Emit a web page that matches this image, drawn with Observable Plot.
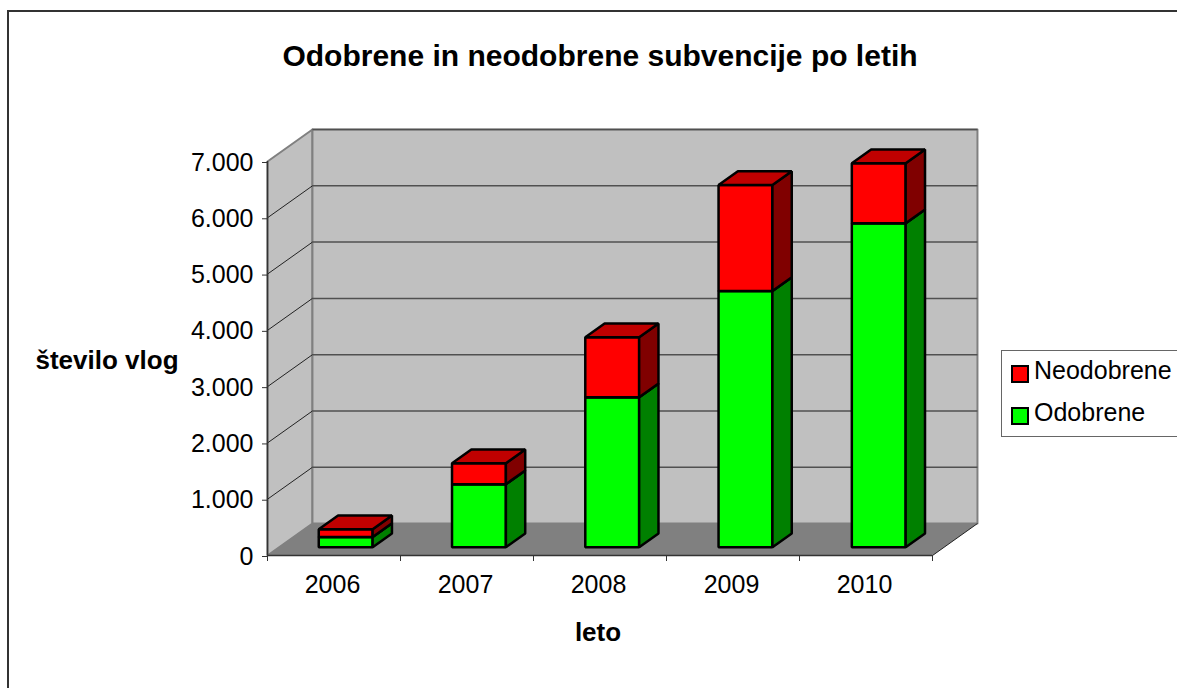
<!DOCTYPE html>
<html>
<head>
<meta charset="utf-8">
<script src="https://cdn.jsdelivr.net/npm/d3@7"></script>
<script src="https://cdn.jsdelivr.net/npm/@observablehq/plot@0.6"></script>
<style>
html,body{margin:0;padding:0;background:#fff;overflow:hidden}
#wrap{position:relative;width:1177px;height:688px;font-family:"Liberation Sans",Arial,sans-serif;color:#000}
#frame{position:absolute;left:7px;top:10px;width:1180px;height:690px;border:2px solid #333;box-sizing:border-box}
#legend{position:absolute;left:1001px;top:350px;width:190px;height:87px;border:1.5px solid #666;box-sizing:border-box;background:#fff}
#legend .sw{position:absolute;left:9px;width:18px;height:18px;border:2px solid #000;box-sizing:border-box}
#legend .lb{position:absolute;left:32px;font-size:25px;line-height:26px;white-space:nowrap}
svg{position:absolute;left:0;top:0}
</style>
</head>
<body>
<div id="wrap"><div id="frame"></div></div>
<script>
const years = ["2006","2007","2008","2009","2010"];
const odobrene = [180,1120,2665,4550,5755];
const neodobrene = [140,370,1065,1885,1065];
const yTicks = [0,1000,2000,3000,4000,5000,6000,7000];
const titleText = "Odobrene in neodobrene subvencije po letih";
const yLabel = "število vlog";
const xLabel = "leto";
const legendItems = [["Neodobrene","#ff0000"],["Odobrene","#00ff00"]];

// 3-D projection expressed in scale units
const wallDX = 0.338, wallDY = 568;
const frontF = 0.26, sideF = 0.43;
const barW = 0.405;

const fmt = d3.formatLocale({decimal:",",thousands:".",grouping:[3],currency:["",""]}).format(",d");

function poly(id, fill, pts){ return pts.map(([x,y]) => ({id, fill, x, y})); }

const walls = [
  ...poly("left","#c0c0c0",[[0,0],[wallDX,wallDY],[wallDX,7000+wallDY],[0,7000]]),
  ...poly("back","#c0c0c0",[[wallDX,wallDY],[5+wallDX,wallDY],[5+wallDX,7000+wallDY],[wallDX,7000+wallDY]])
];
const floor = poly("floor","#808080",[[0,0],[5,0],[5+wallDX,wallDY],[wallDX,wallDY]]);

const fx = wallDX*frontF, fy = wallDY*frontF, sx = wallDX*sideF, sy = wallDY*sideF;
const faces = [];
years.forEach((yr,i) => {
  const x0 = i + 0.5 - barW/2 + fx + i*0.002, x1 = x0 + barW;
  const segs = [
    [fy, fy + odobrene[i], "#00ff00", "#008000", "#00c000", "o"],
    [fy + odobrene[i], fy + odobrene[i] + neodobrene[i], "#ff0000", "#800000", "#c00000", "n"]
  ];
  for (const [b,t,cf,cs,ct,k] of segs) {
    faces.push(...poly(yr+k+"f",cf,[[x0,b],[x1,b],[x1,t],[x0,t]]));
    faces.push(...poly(yr+k+"s",cs,[[x1,b],[x1+sx,b+sy],[x1+sx,t+sy],[x1,t]]));
    faces.push(...poly(yr+k+"t",ct,[[x0,t],[x1,t],[x1+sx,t+sy],[x0+sx,t+sy]]));
  }
});

const gridTicks = yTicks.slice(1);
const chart = Plot.plot({
  width:1177, height:688,
  marginLeft:267, marginRight:245, marginTop:161, marginBottom:133,
  x:{domain:[0,5]},
  y:{domain:[0,7000]},
  color:{type:"identity"},
  style:{background:"transparent",fontFamily:"'Liberation Sans',Arial,sans-serif",color:"#000",overflow:"visible"},
  marks:[
    Plot.line(walls,{x:"x",y:"y",z:"id",fill:"fill",stroke:"#808080",strokeWidth:2,curve:"linear-closed"}),
    Plot.link(gridTicks,{x1:wallDX,x2:5+wallDX,y1:d=>d+wallDY,y2:d=>d+wallDY,stroke:"#505050",strokeWidth:1.5}),
    Plot.link(gridTicks.slice(0,-1),{x1:0,x2:wallDX,y1:d=>d,y2:d=>d+wallDY,stroke:"#222",strokeWidth:1}),
    Plot.line(floor,{x:"x",y:"y",z:"id",fill:"fill",curve:"linear-closed"}),
    Plot.link([0],{x1:5,x2:5+wallDX,y1:0,y2:wallDY,stroke:"#222",strokeWidth:1}),
    Plot.ruleX([0],{y1:0,y2:7000,stroke:"#333",strokeWidth:1.5}),
    Plot.ruleY([0],{x1:0,x2:5,stroke:"#333",strokeWidth:1.5}),
    Plot.line(faces,{x:"x",y:"y",z:"id",fill:"fill",stroke:"#000",strokeWidth:2.5,strokeLinejoin:"miter",curve:"linear-closed"}),
    Plot.axisY({ticks:yTicks,tickSize:5,tickPadding:9,tickFormat:fmt,label:null,fontSize:25,dy:1,stroke:"#333"}),
    Plot.axisX({ticks:d3.range(0,6),tickSize:6,tickFormat:()=>"",label:null,stroke:"#333"}),
    Plot.axisX({ticks:years.map((_,i)=>i+.5),tickSize:0,tickPadding:20,tickFormat:d=>years[d-.5],label:null,fontSize:25,dx:-1.5}),
    Plot.text([titleText],{frameAnchor:"top",dy:-117,fontSize:30,fontWeight:"bold",fill:"#000"}),
    Plot.text([yLabel],{frameAnchor:"left",textAnchor:"start",dx:-232,dy:2,fontSize:26,fontWeight:"bold",fill:"#000"}),
    Plot.text([xLabel],{frameAnchor:"bottom",dy:85,dx:-2,fontSize:26,fontWeight:"bold",fill:"#000"})
  ]
});
const wrap = document.getElementById("wrap");
wrap.appendChild(chart);
const lg = document.createElement("div");
lg.id = "legend";
legendItems.forEach(([name,col],i) => {
  const s = document.createElement("div");
  s.className = "sw"; s.style.background = col; s.style.top = (14 + i*42) + "px";
  const l = document.createElement("div");
  l.className = "lb"; l.textContent = name; l.style.top = (6 + i*42) + "px";
  lg.append(s,l);
});
wrap.appendChild(lg);
</script>
</body>
</html>
